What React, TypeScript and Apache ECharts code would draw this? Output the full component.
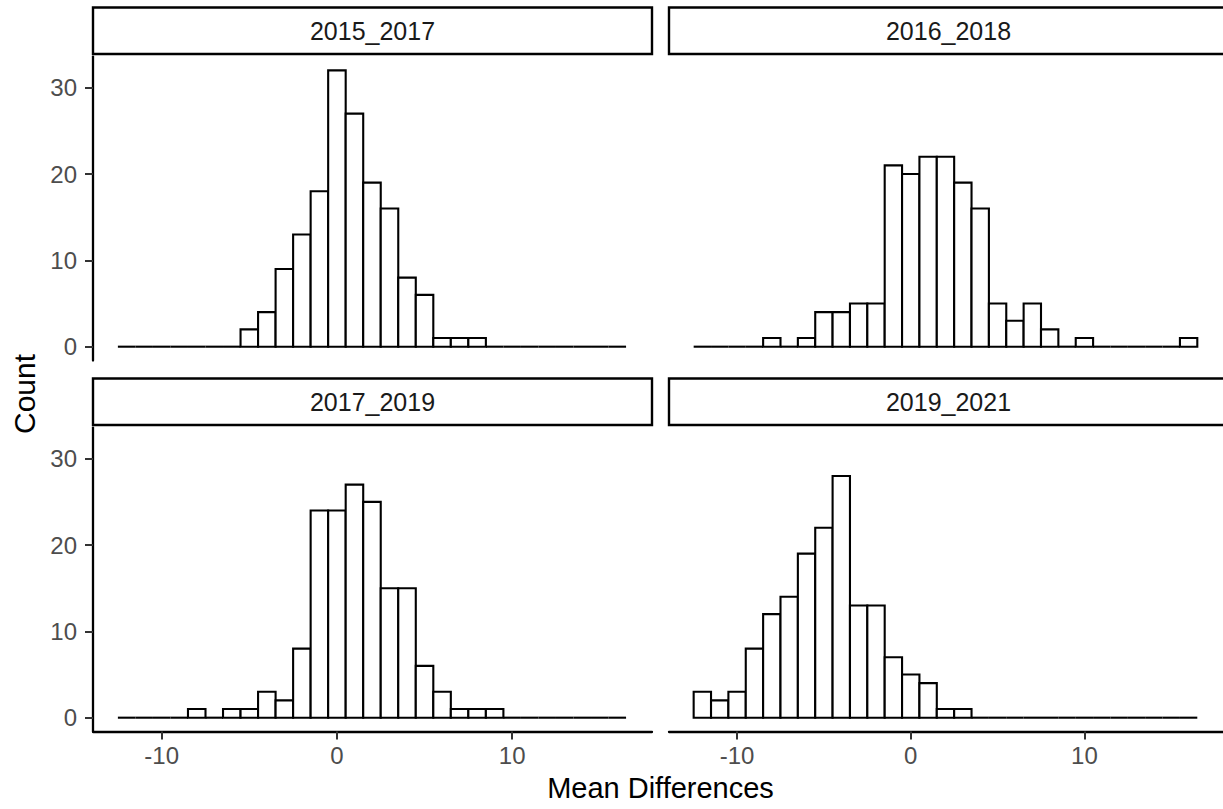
import React, { useEffect, useRef } from "react";
import * as echarts from "echarts";

// Histogram bins (centres), width 1
const binCenters = [-12, -11, -10, -9, -8, -7, -6, -5, -4, -3, -2, -1, 0, 1, 2, 3, 4, 5, 6, 7, 8, 9, 10, 11, 12, 13, 14, 15, 16];
const binWidth = 1;

const panelNames = ["2015_2017", "2016_2018", "2017_2019", "2019_2021"];
const counts2015_2017 = [0, 0, 0, 0, 0, 0, 0, 2, 4, 9, 13, 18, 32, 27, 19, 16, 8, 6, 1, 1, 1, 0, 0, 0, 0, 0, 0, 0, 0];
const counts2016_2018 = [0, 0, 0, 0, 1, 0, 1, 4, 4, 5, 5, 21, 20, 22, 22, 19, 16, 5, 3, 5, 2, 0, 1, 0, 0, 0, 0, 0, 1];
const counts2017_2019 = [0, 0, 0, 0, 1, 0, 1, 1, 3, 2, 8, 24, 24, 27, 25, 15, 15, 6, 3, 1, 1, 1, 0, 0, 0, 0, 0, 0, 0];
const counts2019_2021 = [3, 2, 3, 8, 12, 14, 19, 22, 28, 13, 13, 7, 5, 4, 1, 1, 0, 0, 0, 0, 0, 0, 0, 0, 0, 0, 0, 0, 0];

const xTicks = [-10, 0, 10];
const yTicks = [0, 10, 20, 30];
const xTitle = "Mean Differences";
const yTitle = "Count";

const FONT = "'Liberation Sans', Arial, Helvetica, sans-serif";

export default function App() {
  const ref = useRef<HTMLDivElement>(null);

  useEffect(() => {
    if (!ref.current) return;
    const chart = echarts.init(ref.current, null, { renderer: "svg" });

    const allCounts = [counts2015_2017, counts2016_2018, counts2017_2019, counts2019_2021];
    const panelLeft = [93, 669, 93, 669];
    const panelTop = [56.6, 56.6, 427.6, 427.6];
    const panelW = 559;
    const panelH = 303.9;
    const stripTop = [7.5, 7.5, 378.5, 378.5];
    const stripH = 46.5;

    const grids = panelLeft.map((l, i) => ({
      left: l,
      top: panelTop[i],
      width: panelW,
      height: panelH,
      containLabel: false,
    }));

    const xAxes = panelLeft.map((_, i) => {
      const bottom = i >= 2;
      return {
        type: "value",
        gridIndex: i,
        min: -13.92,
        max: 17.98,
        show: bottom,
        splitLine: { show: false },
        axisLine: { show: bottom, onZero: false, lineStyle: { color: "#000", width: 2.3 } },
        axisTick: {
          show: bottom,
          length: 8,
          customValues: xTicks,
          lineStyle: { color: "#333", width: 2 },
        },
        axisLabel: {
          show: bottom,
          customValues: xTicks,
          margin: 12,
          color: "#4D4D4D",
          fontSize: 24,
          fontFamily: FONT,
        },
      };
    });

    const yAxes = panelLeft.map((_, i) => {
      const left = i % 2 === 0;
      return {
        type: "value",
        gridIndex: i,
        min: -1.6,
        max: 33.6,
        show: left,
        splitLine: { show: false },
        axisLine: { show: left, onZero: false, lineStyle: { color: "#000", width: 2.3 } },
        axisTick: {
          show: left,
          length: 8,
          customValues: yTicks,
          lineStyle: { color: "#333", width: 2 },
        },
        axisLabel: {
          show: left,
          customValues: yTicks,
          margin: 16,
          color: "#4D4D4D",
          fontSize: 24,
          fontFamily: FONT,
        },
      };
    });

    const renderItem = (params: any, api: any) => {
      const c = api.value(0);
      const n = api.value(1);
      const p0 = api.coord([c - binWidth / 2, 0]);
      const p1 = api.coord([c + binWidth / 2, n]);
      if (n === 0) {
        return {
          type: "line",
          shape: { x1: p0[0], y1: p0[1], x2: p1[0], y2: p0[1] },
          style: { stroke: "#000", lineWidth: 2.1 },
        };
      }
      return {
        type: "rect",
        shape: { x: p0[0], y: p1[1], width: p1[0] - p0[0], height: p0[1] - p1[1] },
        style: { fill: "#fff", stroke: "#000", lineWidth: 2.1 },
      };
    };

    const series = allCounts.map((counts, i) => ({
      type: "custom",
      name: panelNames[i],
      xAxisIndex: i,
      yAxisIndex: i,
      clip: false,
      encode: { x: 0, y: 1 },
      renderItem,
      data: binCenters.map((c, j) => [c, counts[j]]),
    }));

    const graphics: any[] = [];
    panelNames.forEach((name, i) => {
      graphics.push({
        type: "rect",
        shape: { x: panelLeft[i], y: stripTop[i], width: panelW, height: stripH },
        style: { fill: "#fff", stroke: "#000", lineWidth: 2.4 },
        silent: true,
      });
      graphics.push({
        type: "text",
        x: panelLeft[i] + panelW / 2,
        y: stripTop[i] + stripH / 2,
        style: {
          text: name,
          fill: "#1A1A1A",
          font: `25px ${FONT}`,
          textAlign: "center",
          textVerticalAlign: "middle",
        },
        silent: true,
      });
    });
    graphics.push({
      type: "text",
      x: 660.5,
      y: 788,
      style: {
        text: xTitle,
        fill: "#000",
        font: `29px ${FONT}`,
        textAlign: "center",
        textVerticalAlign: "middle",
      },
      silent: true,
    });
    graphics.push({
      type: "text",
      x: 24,
      y: 394,
      rotation: Math.PI / 2,
      style: {
        text: yTitle,
        fill: "#000",
        font: `30px ${FONT}`,
        textAlign: "center",
        textVerticalAlign: "middle",
      },
      silent: true,
    });

    chart.setOption({
      animation: false,
      backgroundColor: "#fff",
      grid: grids,
      xAxis: xAxes,
      yAxis: yAxes,
      series,
      graphic: graphics,
    });

    return () => chart.dispose();
  }, []);

  return (
    <div
      ref={ref}
      style={{ position: "fixed", left: 0, top: 0, width: 1223, height: 809, background: "#fff" }}
    />
  );
}
